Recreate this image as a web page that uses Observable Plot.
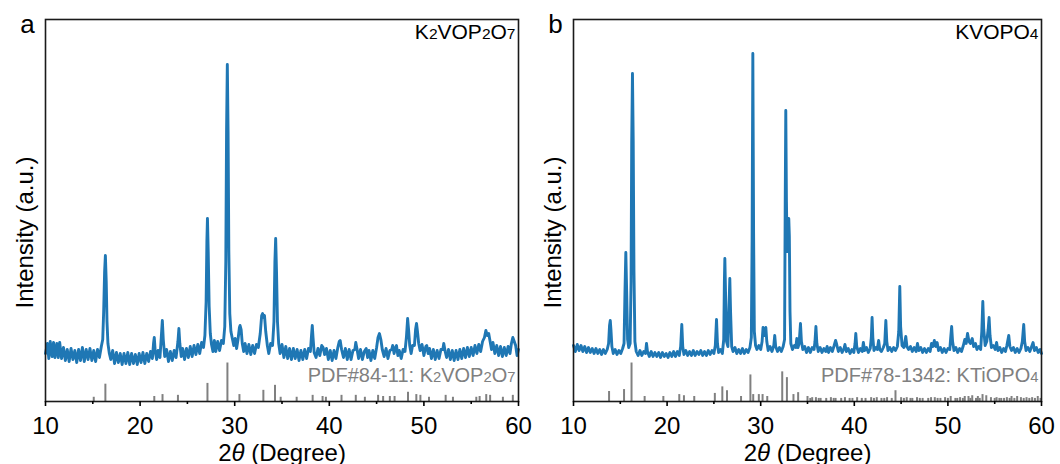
<!DOCTYPE html>
<html>
<head>
<meta charset="utf-8">
<script src="https://cdn.jsdelivr.net/npm/d3@7"></script>
<script src="https://cdn.jsdelivr.net/npm/@observablehq/plot@0.6"></script>
<style>
  html, body { margin: 0; padding: 0; background: #fff; }
  #wrap { display: flex; width: 1060px; height: 464px; }
  #wrap svg { background: transparent !important; overflow: visible !important; }
</style>
</head>
<body>
<div id="wrap"></div>
<script>
// ---------- DATA ----------
const xMajorTicks = [10, 20, 30, 40, 50, 60];
const xMinorTicks = [15, 25, 35, 45, 55];
const xTitle = "2θ (Degree)";
const yTitle = "Intensity (a.u.)";
const panelLetters = ["a", "b"];
const sampleNames = ["K2VOP2O7", "KVOPO4"];
const refNames = ["PDF#84-11: K2VOP2O7", "PDF#78-1342: KTiOPO4"];

// measured scan, panel a: [2θ, intensity]
const scanA = [
[10.0,48],[10.2,58],[10.35,43],[10.5,60],[10.7,45],[10.85,59],[11.0,44],[11.2,58],[11.35,44],[11.5,59],[11.7,43],[11.9,54],[12.1,41],[12.3,52],[12.5,40],[12.7,53],[12.9,42],[13.1,51],[13.3,39],[13.5,52],[13.7,41],[13.9,54],[14.1,40],[14.3,52],[14.5,42],[14.7,53],[14.9,41],[15.1,51],[15.3,40],[15.5,52],[15.7,44],[15.9,55],[16.05,62],[16.15,90],[16.25,130],[16.33,146],[16.42,120],[16.5,80],[16.6,58],[16.75,48],[16.9,42],[17.1,51],[17.3,38],[17.5,49],[17.7,39],[17.9,48],[18.1,37],[18.3,48],[18.5,38],[18.7,49],[18.9,37],[19.1,48],[19.3,38],[19.5,47],[19.7,37],[19.9,48],[20.1,39],[20.3,49],[20.5,38],[20.7,48],[20.9,40],[21.1,50],[21.3,43],[21.42,58],[21.5,64],[21.6,50],[21.75,42],[21.9,51],[22.1,44],[22.25,66],[22.35,81],[22.45,62],[22.6,45],[22.8,52],[23.0,40],[23.2,50],[23.4,41],[23.6,51],[23.8,44],[24.0,60],[24.1,73],[24.2,58],[24.35,45],[24.5,53],[24.7,42],[24.9,53],[25.1,44],[25.3,55],[25.5,45],[25.7,56],[25.9,47],[26.1,57],[26.3,48],[26.5,59],[26.7,54],[26.85,66],[26.98,100],[27.06,160],[27.12,183],[27.2,150],[27.3,95],[27.42,68],[27.55,57],[27.7,50],[27.85,61],[28.0,50],[28.2,60],[28.4,51],[28.6,61],[28.8,58],[28.95,75],[29.06,140],[29.14,270],[29.22,337],[29.3,270],[29.38,150],[29.48,88],[29.6,70],[29.75,63],[29.9,56],[30.05,63],[30.2,53],[30.35,62],[30.5,74],[30.57,76],[30.68,72],[30.8,58],[30.95,50],[31.1,58],[31.3,48],[31.5,57],[31.7,47],[31.9,56],[32.1,48],[32.3,57],[32.5,54],[32.7,68],[32.85,86],[32.95,88],[33.05,84],[33.15,86],[33.28,70],[33.45,56],[33.6,48],[33.8,58],[34.0,56],[34.15,80],[34.25,140],[34.33,163],[34.42,130],[34.52,80],[34.65,58],[34.8,48],[35.0,57],[35.2,44],[35.4,55],[35.6,43],[35.8,53],[36.0,42],[36.2,53],[36.4,43],[36.6,52],[36.8,41],[37.0,51],[37.2,42],[37.4,52],[37.6,43],[37.8,53],[38.0,50],[38.12,66],[38.2,76],[38.28,64],[38.4,49],[38.6,44],[38.8,53],[39.0,46],[39.2,56],[39.35,54],[39.5,47],[39.7,53],[39.9,42],[40.1,51],[40.3,41],[40.5,51],[40.7,43],[40.9,54],[41.05,60],[41.15,61],[41.3,52],[41.5,44],[41.7,53],[41.9,42],[42.1,52],[42.3,42],[42.5,51],[42.7,52],[42.8,59],[42.9,54],[43.1,43],[43.3,52],[43.5,42],[43.7,50],[43.9,53],[44.05,44],[44.2,51],[44.4,41],[44.6,51],[44.8,43],[45.0,54],[45.15,64],[45.3,68],[45.45,62],[45.6,52],[45.8,45],[46.0,53],[46.2,43],[46.4,51],[46.6,52],[46.7,56],[46.85,48],[47.0,54],[47.1,56],[47.25,46],[47.4,51],[47.6,43],[47.8,52],[48.0,50],[48.15,64],[48.28,83],[48.38,72],[48.5,56],[48.65,48],[48.8,56],[49.0,56],[49.12,72],[49.22,78],[49.32,70],[49.45,58],[49.6,51],[49.8,57],[50.0,46],[50.2,55],[50.3,56],[50.45,48],[50.6,53],[50.8,43],[51.0,52],[51.2,42],[51.4,51],[51.6,43],[51.8,52],[52.0,52],[52.1,58],[52.25,50],[52.4,44],[52.6,52],[52.8,42],[53.0,51],[53.2,41],[53.4,51],[53.6,42],[53.8,52],[54.0,43],[54.2,53],[54.4,44],[54.6,54],[54.8,45],[55.0,54],[55.2,46],[55.4,56],[55.6,48],[55.8,57],[56.0,50],[56.2,60],[56.4,64],[56.55,71],[56.7,66],[56.85,68],[57.0,60],[57.15,52],[57.3,59],[57.5,48],[57.7,56],[57.9,46],[58.1,55],[58.3,45],[58.5,54],[58.7,46],[58.9,55],[59.1,48],[59.25,58],[59.4,64],[59.55,60],[59.7,56],[59.85,46],[60.0,52]
];

// measured scan, panel b: [2θ, intensity]
const scanB = [
[10.0,56],[10.2,50],[10.4,57],[10.6,51],[10.8,56],[11.0,50],[11.2,55],[11.4,49],[11.6,54],[11.8,49],[12.0,53],[12.2,48],[12.4,53],[12.6,48],[12.8,52],[13.0,47],[13.2,52],[13.4,48],[13.6,52],[13.75,58],[13.85,76],[13.93,81],[14.0,72],[14.1,55],[14.25,48],[14.45,52],[14.65,47],[14.85,51],[15.05,48],[15.25,53],[15.4,58],[15.5,110],[15.59,149],[15.68,110],[15.78,62],[15.9,54],[16.05,58],[16.15,120],[16.22,260],[16.3,328],[16.38,260],[16.46,130],[16.56,60],[16.7,50],[16.9,46],[17.1,51],[17.3,46],[17.5,50],[17.7,48],[17.8,58],[17.9,50],[18.1,45],[18.3,50],[18.5,45],[18.7,49],[18.9,45],[19.1,49],[19.3,44],[19.5,49],[19.7,45],[19.9,48],[20.1,44],[20.3,49],[20.5,45],[20.7,50],[20.9,45],[21.1,50],[21.3,46],[21.45,55],[21.57,77],[21.67,55],[21.8,47],[22.0,51],[22.2,46],[22.4,50],[22.6,46],[22.8,51],[23.0,46],[23.2,50],[23.4,47],[23.6,51],[23.8,46],[24.0,50],[24.2,46],[24.4,51],[24.6,47],[24.8,51],[25.0,48],[25.15,56],[25.28,82],[25.38,58],[25.5,49],[25.7,52],[25.9,48],[26.05,62],[26.12,120],[26.17,143],[26.24,110],[26.35,60],[26.5,55],[26.6,90],[26.7,123],[26.78,90],[26.9,55],[27.05,50],[27.25,54],[27.45,48],[27.65,52],[27.85,48],[28.05,53],[28.25,48],[28.45,52],[28.65,49],[28.85,54],[29.0,64],[29.08,160],[29.16,348],[29.24,170],[29.32,70],[29.45,56],[29.6,52],[29.8,56],[30.0,52],[30.15,60],[30.25,74],[30.4,66],[30.55,74],[30.65,60],[30.8,51],[31.0,55],[31.2,50],[31.4,56],[31.5,66],[31.6,55],[31.8,50],[32.0,54],[32.2,50],[32.4,55],[32.55,62],[32.62,200],[32.68,291],[32.75,200],[32.82,150],[32.92,176],[33.0,183],[33.06,165],[33.13,90],[33.22,58],[33.4,52],[33.6,56],[33.75,54],[33.86,63],[33.98,54],[34.1,58],[34.25,78],[34.35,60],[34.5,52],[34.7,55],[34.9,49],[35.1,54],[35.3,49],[35.5,54],[35.7,52],[35.8,60],[35.9,75],[36.0,58],[36.15,50],[36.35,54],[36.55,49],[36.75,53],[36.95,50],[37.1,55],[37.25,49],[37.45,54],[37.65,50],[37.85,56],[38.0,61],[38.12,57],[38.3,50],[38.5,54],[38.7,49],[38.9,53],[39.0,57],[39.15,50],[39.35,53],[39.55,48],[39.75,52],[39.95,49],[40.08,58],[40.16,68],[40.26,55],[40.45,49],[40.65,53],[40.85,50],[40.97,59],[41.1,51],[41.3,54],[41.5,49],[41.7,53],[41.82,64],[41.9,84],[41.98,64],[42.1,51],[42.3,54],[42.45,52],[42.6,61],[42.72,52],[42.9,50],[43.1,54],[43.25,58],[43.37,81],[43.47,60],[43.6,51],[43.8,54],[44.0,50],[44.2,54],[44.4,51],[44.6,55],[44.75,70],[44.86,115],[44.95,75],[45.1,56],[45.3,54],[45.5,65],[45.62,55],[45.8,52],[46.0,55],[46.2,50],[46.4,54],[46.6,50],[46.75,58],[46.9,51],[47.1,54],[47.3,49],[47.5,53],[47.7,49],[47.9,53],[48.1,50],[48.25,58],[48.4,55],[48.55,61],[48.7,55],[48.85,59],[49.0,51],[49.2,54],[49.4,49],[49.6,53],[49.8,49],[50.0,53],[50.2,52],[50.3,64],[50.4,75],[50.5,60],[50.65,51],[50.85,54],[51.05,49],[51.25,53],[51.45,50],[51.65,56],[51.8,62],[51.95,58],[52.1,68],[52.25,60],[52.4,58],[52.6,63],[52.75,55],[52.95,58],[53.1,52],[53.3,55],[53.5,52],[53.62,70],[53.73,100],[53.83,72],[53.98,56],[54.15,60],[54.3,72],[54.4,84],[54.5,66],[54.65,54],[54.85,56],[55.05,52],[55.2,59],[55.35,51],[55.55,54],[55.75,49],[55.95,53],[56.15,50],[56.3,56],[56.5,66],[56.62,55],[56.8,51],[57.0,54],[57.2,49],[57.4,53],[57.6,49],[57.8,53],[57.95,60],[58.1,77],[58.2,60],[58.35,51],[58.55,54],[58.75,50],[58.95,55],[59.1,59],[59.25,51],[59.45,54],[59.65,49],[59.85,52],[60.0,48]
];

// reference (PDF card) line positions and relative intensities
const refA_x = [15.1,16.33,21.5,22.37,24.0,27.12,29.23,30.5,33.03,34.26,34.86,36.55,38.24,39.29,39.64,41.29,42.8,43.76,45.16,45.69,46.4,46.9,48.32,49.2,49.63,50.54,52.3,53.07,55.54,55.89,56.59,57.0,58.35,59.4];
const refA_I = [11,45,13,18,16,47,100,18,29,42,11,11,16,13,11,16,16,11,16,13,13,13,24,18,16,11,16,11,11,13,18,16,11,16];

const refB_x = [13.8,15.4,16.2,17.6,19.6,21.3,21.8,22.9,25.1,25.9,26.4,27.9,28.9,29.2,29.8,30.2,30.7,32.3,32.8,33.5,34.0,
  35.0,35.3,35.5,35.9,36.2,36.4,37.0,37.5,37.8,38.0,38.6,39.0,39.5,39.8,40.3,40.8,41.2,41.8,42.1,42.4,42.9,43.2,43.5,44.0,44.4,45.0,45.3,45.6,46.0,46.2,46.7,47.0,47.3,47.9,48.2,48.6,48.9,49.2,49.7,50.0,50.3,50.8,51.0,51.3,51.6,51.8,52.2,52.4,52.6,53.0,53.2,53.4,53.7,54.1,54.6,55.0,55.2,55.5,55.7,56.0,56.3,56.6,56.8,57.1,57.4,57.8,58.1,58.4,58.7,59.0,59.3,59.6,59.9];
const refB_I = [26,31,100,13,13,18,15,13,21,38,28,13,69,18,18,18,13,77,62,18,23,
  13,8,10,10,8,8,8,10,8,8,8,10,8,8,10,8,8,10,8,10,8,8,10,8,28,10,8,10,8,8,10,8,8,8,10,10,8,8,10,8,13,8,8,10,8,13,13,8,15,8,13,8,18,15,10,8,10,8,8,8,10,8,13,8,13,10,8,10,8,10,8,13,8];

// ---------- STYLE ----------
const FONT = "'Liberation Sans', Arial, Helvetica, sans-serif";
const BLUE = "#1f77b4";
const GREY = "#808080";
const STICK = 0.385;   // stick length per unit of relative intensity

function rich(svg, label, segs) {
  d3.select(svg).selectAll("text")
    .filter(function () { return this.textContent === label; })
    .each(function () {
      const t = d3.select(this);
      t.text(null);
      segs.forEach(s => {
        const ts = t.append("tspan").text(s.t);
        if (s.small) ts.style("font-size", "0.74em");
        if (s.italic) ts.style("font-style", "italic");
      });
    });
}
function chemSegs(str) {
  const idx = str.indexOf(": ");
  const pre = idx >= 0 ? str.slice(0, idx + 2) : "";
  const f = idx >= 0 ? str.slice(idx + 2) : str;
  const segs = pre ? [{ t: pre }] : [];
  f.split(/(\d+)/).filter(s => s.length).forEach(s => segs.push({ t: s, small: /^\d+$/.test(s) }));
  return segs;
}

function panel(i, scan, refx, refI, margins) {
  const pts = scan.map(([x, y]) => ({ x, y }));
  const ref = refx.map((x, k) => ({ x, I: refI[k] }));
  const svg = Plot.plot({
    width: 530, height: 464,
    marginLeft: margins[0], marginRight: margins[1], marginTop: 19, marginBottom: 63,
    style: { fontFamily: FONT, fontSize: "24px", color: "#000", background: "transparent", overflow: "visible" },
    x: { domain: [10, 60] },
    y: { domain: [0, 382], axis: null },
    marks: [
      Plot.ruleX(ref, { x: "x", y1: 0, y2: d => d.I * STICK, stroke: GREY, strokeWidth: 2 }),
      Plot.line(pts, { x: "x", y: "y", stroke: BLUE, strokeWidth: 2.9, strokeLinejoin: "round" }),
      Plot.frame({ stroke: "#1a1a1a", strokeWidth: 1.6 }),
      Plot.axisX({ ticks: xMajorTicks, tickSize: 5, tickPadding: 10, tickFormat: d => String(d), label: null, fontSize: 24, strokeWidth: 1.6 }),
      Plot.axisX({ ticks: xMinorTicks, tickSize: 3, tickFormat: () => "", label: null, strokeWidth: 1.6 }),
      Plot.text([xTitle], { text: d => d, frameAnchor: "bottom", lineAnchor: "bottom", dy: 59, fontSize: 24 }),
      Plot.text([yTitle], { text: d => d, frameAnchor: "left", rotate: -90, lineAnchor: "bottom", textAnchor: "middle", dx: -13, dy: 22, fontSize: 24 }),
      Plot.text([panelLetters[i]], { text: d => d, frameAnchor: "top-left", lineAnchor: "bottom", textAnchor: "middle", dx: -18, dy: 13, fontSize: 26 }),
      Plot.text([sampleNames[i]], { text: d => d, frameAnchor: "top-right", lineAnchor: "bottom", textAnchor: "end", dx: -3, dy: 19, fontSize: 21 }),
      Plot.text([refNames[i]], { text: d => d, frameAnchor: "bottom-right", lineAnchor: "bottom", textAnchor: "end", dx: -3, dy: -20, fontSize: 20, fill: GREY })
    ]
  });
  rich(svg, xTitle, [{ t: "2" }, { t: "θ", italic: true }, { t: " (Degree)" }]);
  rich(svg, sampleNames[i], chemSegs(sampleNames[i]));
  rich(svg, refNames[i], chemSegs(refNames[i]));
  return svg;
}

const wrap = document.getElementById("wrap");
wrap.appendChild(panel(0, scanA, refA_x, refA_I, [45, 12]));
wrap.appendChild(panel(1, scanB, refB_x, refB_I, [43, 19]));
</script>
</body>
</html>
